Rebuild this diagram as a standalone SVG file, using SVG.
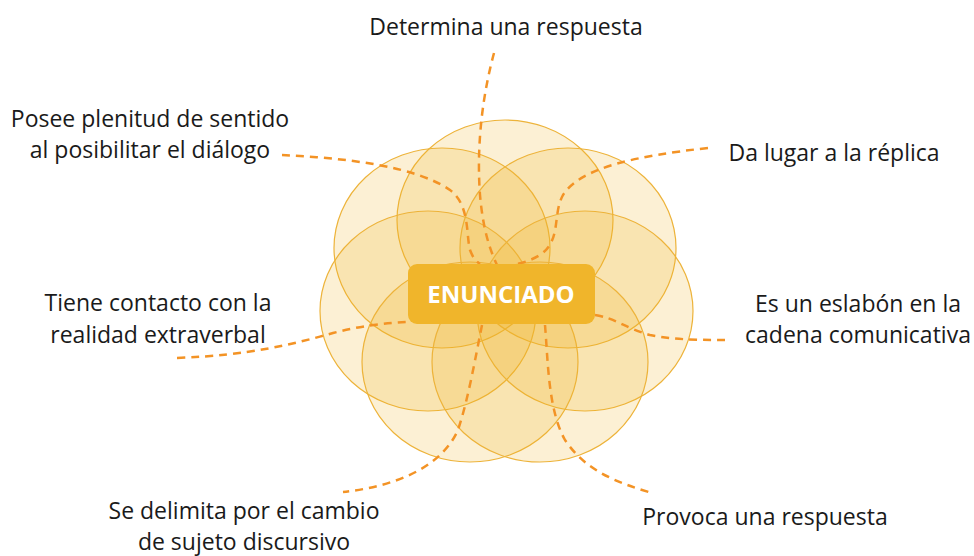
<svg xmlns="http://www.w3.org/2000/svg" width="974" height="556" viewBox="0 0 974 556">
<style>
.petal{fill:#F0B429;fill-opacity:0.2;stroke:#EDB33A;stroke-width:1.2}
.link{fill:none;stroke:#F39325;stroke-width:2.5;stroke-dasharray:8 6}
.lbl{font-family:"Open Sans","Noto Sans","Liberation Sans",sans-serif;font-size:23px;fill:#1a1a1a;text-anchor:middle}
.center{font-family:"Open Sans","Noto Sans","Liberation Sans",sans-serif;font-size:24px;font-weight:bold;fill:#ffffff;text-anchor:middle}
</style>
<rect width="974" height="556" fill="#ffffff"/>
<g id="flower">
<ellipse class="petal" cx="505" cy="220" rx="108" ry="100"/>
<ellipse class="petal" cx="442" cy="248" rx="108" ry="100"/>
<ellipse class="petal" cx="568" cy="248" rx="108" ry="100"/>
<ellipse class="petal" cx="428" cy="311" rx="108" ry="100"/>
<ellipse class="petal" cx="585" cy="311" rx="108" ry="100"/>
<ellipse class="petal" cx="470" cy="362" rx="108" ry="100"/>
<ellipse class="petal" cx="540" cy="362" rx="108" ry="100"/>
</g>
<g id="connectors">
<path class="link" d="M494,53 C484,90 476,140 480,195 C483,230 490,250 497,265"/>
<path class="link" d="M282,155 C345,158 415,166 450,190 C470,205 466,235 470,250 C473,258 476,261 480,264"/>
<path class="link" d="M708,148 C635,156 580,168 563,195 C552,215 562,240 540,255 C532,260 525,262 517,264"/>
<path class="link" d="M177,358 C250,355 290,345 333,333 C360,326 385,323 408,322"/>
<path class="link" d="M595,315 C615,318 625,328 650,335 C675,340 700,340 725,340"/>
<path class="link" d="M482,325 C475,360 468,400 458,430 C440,470 390,487 343,492"/>
<path class="link" d="M545,325 C548,360 548,410 565,440 C585,470 615,482 652,493"/>
</g>
<g id="node-center">
<rect x="408" y="264" width="187" height="60" rx="9" fill="#F0B52B"/>
<text class="center" x="501" y="303">ENUNCIADO</text>
</g>
<g id="node-top">
<text class="lbl" x="506" y="35">Determina una respuesta</text>
</g>
<g id="node-top-left">
<text class="lbl" x="150" y="127">Posee plenitud de sentido</text>
<text class="lbl" x="150" y="158">al posibilitar el diálogo</text>
</g>
<g id="node-top-right">
<text class="lbl" x="834" y="161">Da lugar a la réplica</text>
</g>
<g id="node-left">
<text class="lbl" x="158" y="311">Tiene contacto con la</text>
<text class="lbl" x="158" y="343">realidad extraverbal</text>
</g>
<g id="node-right">
<text class="lbl" x="858" y="312">Es un eslabón en la</text>
<text class="lbl" x="858" y="343">cadena comunicativa</text>
</g>
<g id="node-bottom-left">
<text class="lbl" x="244" y="519">Se delimita por el cambio</text>
<text class="lbl" x="244" y="550">de sujeto discursivo</text>
</g>
<g id="node-bottom-right">
<text class="lbl" x="765" y="525">Provoca una respuesta</text>
</g>
</svg>
